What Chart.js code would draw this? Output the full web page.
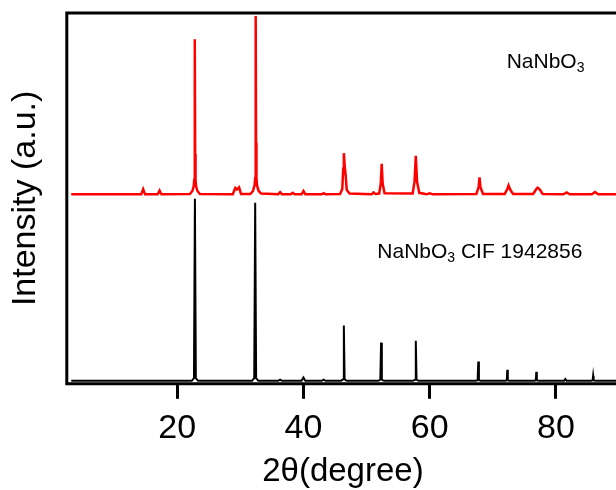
<!DOCTYPE html>
<html>
<head>
<meta charset="utf-8">
<script src="https://cdn.jsdelivr.net/npm/chart.js@4.4.1/dist/chart.umd.min.js"></script>
<style>
  html, body { margin: 0; padding: 0; background: #fff; overflow: hidden; }
  #wrap { width: 620px; height: 490px; }
</style>
</head>
<body>
<div id="wrap"><canvas id="xrd-chart" width="620" height="490"></canvas></div>
<script>
// 2theta tick labels
const xTicks = [20, 40, 60, 80];

// reference pattern (CIF 1942856), black
const cifAngle = [3.2, 22.3, 22.65, 22.8, 22.95, 23.3, 31.85, 32.2, 32.35, 32.5, 32.85,
  36.0, 36.3, 36.6, 39.7, 40.0, 40.3, 42.9, 43.2, 43.5,
  45.95, 46.28, 46.4, 46.52, 46.85, 51.85, 52.18, 52.3, 52.42, 52.75,
  57.35, 57.68, 57.8, 57.92, 58.25, 67.35, 67.6, 67.7, 67.8, 68.05,
  72.0, 72.22, 72.3, 72.38, 72.6, 76.6, 76.82, 76.9, 76.98, 77.2,
  81.3, 81.5, 81.7, 85.6, 85.82, 85.9, 85.98, 86.2, 90];
const cifIntensity = [0.8, 0.8, 1.5, 49.9, 1.5, 0.8, 0.8, 1.5, 48.8, 1.5, 0.8,
  0.8, 1.1, 0.8, 0.8, 1.7, 0.8, 0.8, 1.1, 0.8,
  0.8, 1.2, 15.7, 1.2, 0.8, 0.8, 1.1, 11.1, 1.1, 0.8,
  0.8, 1.1, 11.6, 1.1, 0.8, 0.8, 1.0, 6.0, 1.0, 0.8,
  0.8, 0.95, 3.8, 0.95, 0.8, 0.8, 0.95, 3.2, 0.95, 0.8,
  0.8, 1.3, 0.8, 0.8, 0.95, 2.2, 0.95, 0.8, 0.8];

// measured NaNbO3 pattern (offset upward), red
const sampleAngle = [3.2, 14.3, 14.6, 14.9, 16.9, 17.2, 17.5,
  22.0, 22.4, 22.6, 22.7, 22.76, 22.8, 22.84, 22.9, 23.0, 23.2, 23.6,
  28.8, 29.2, 29.45, 29.8, 30.1,
  31.6, 32.0, 32.25, 32.35, 32.41, 32.45, 32.49, 32.55, 32.65, 32.9, 33.3,
  36.0, 36.3, 36.6, 38.0, 38.3, 38.6, 39.7, 40.0, 40.3, 42.9, 43.2, 43.5,
  45.8, 46.15, 46.3, 46.4, 46.55, 46.7, 46.85, 47.3,
  50.8, 51.1, 51.4, 52.0, 52.25, 52.4, 52.55, 52.85,
  57.3, 57.6, 57.8, 58.0, 58.35, 59.5, 60.0, 60.5,
  67.4, 67.75, 67.9, 68.05, 68.45, 71.9, 72.3, 72.5, 72.75, 73.2,
  76.4, 76.85, 77.1, 77.4, 77.9, 81.2, 81.7, 82.2, 85.7, 86.2, 86.7, 90];
const sampleIntensity = [51.1, 51.1, 52.5, 51.1, 51.1, 52.1, 51.1,
  51.2, 52.0, 53.2, 55.0, 62.0, 92.9, 62.0, 55.0, 53.2, 52.0, 51.2,
  51.1, 52.8, 52.4, 53.0, 51.2,
  51.2, 52.0, 53.5, 55.5, 65.0, 99.2, 65.0, 55.5, 53.5, 52.0, 51.3,
  51.1, 51.7, 51.1, 51.1, 51.5, 51.1, 51.1, 52.0, 51.1, 51.1, 51.4, 51.1,
  51.2, 52.5, 58.0, 62.2, 58.6, 56.0, 52.3, 51.3,
  51.1, 51.6, 51.2, 51.3, 54.0, 59.3, 54.0, 51.4,
  51.3, 54.5, 61.5, 54.5, 51.5, 51.1, 51.4, 51.1,
  51.2, 53.0, 55.7, 53.0, 51.2, 51.2, 52.5, 53.5, 52.4, 51.2,
  51.2, 52.4, 52.9, 52.5, 51.2, 51.1, 51.6, 51.1, 51.1, 51.7, 51.1, 51.1];

const fontFamily = '"Liberation Sans", Arial, Helvetica, sans-serif';

function toPoints(xs, ys) {
  return xs.map((x, i) => ({ x: x, y: ys[i] }));
}

// frame (left, top, bottom) and the two curve labels
const framePlugin = {
  id: 'frame',
  afterDraw: function (chart) {
    const c = chart.ctx;
    const a = chart.chartArea;
    const xs = chart.scales.x;
    const ys = chart.scales.y;
    c.save();
    c.strokeStyle = '#000';
    c.lineWidth = 3;
    c.beginPath();
    c.moveTo(a.right + 2, a.top);
    c.lineTo(a.left, a.top);
    c.lineTo(a.left, a.bottom);
    c.lineTo(a.right + 2, a.bottom);
    c.stroke();

    function label(text, x, y) {
      c.fillStyle = '#000';
      c.textBaseline = 'alphabetic';
      c.textAlign = 'left';
      c.font = '21px ' + fontFamily;
      c.fillText(text[0], x, y);
      let w = c.measureText(text[0]).width;
      c.font = '14px ' + fontFamily;
      c.fillText('3', x + w, y + 4);
      w += c.measureText('3').width;
      if (text[1]) {
        c.font = '21px ' + fontFamily;
        c.fillText(text[1], x + w, y);
      }
    }
    label(['NaNbO'], xs.getPixelForValue(72.2), ys.getPixelForValue(85.3));
    label(['NaNbO', ' CIF 1942856'], xs.getPixelForValue(51.7), ys.getPixelForValue(33.9));
    c.restore();
  }
};

const ctx = document.getElementById('xrd-chart');
new Chart(ctx, {
  type: 'line',
  data: {
    datasets: [{
      label: 'NaNbO3',
      data: toPoints(sampleAngle, sampleIntensity),
      borderColor: '#ff0000',
      borderWidth: 2.5,
      pointRadius: 0,
      tension: 0,
      fill: false,
    }, {
      label: 'NaNbO3 CIF 1942856',
      data: toPoints(cifAngle, cifIntensity),
      borderColor: '#000000',
      borderWidth: 2,
      pointRadius: 0,
      tension: 0,
      fill: false,
    }]
  },
  options: {
    responsive: false,
    animation: false,
    layout: { padding: { top: 13, right: 1, left: 0, bottom: 0 } },
    scales: {
      x: {
        type: 'linear',
        min: 2.5,
        max: 90,
        afterBuildTicks: function (axis) {
          axis.ticks = xTicks.map(v => ({ value: v }));
        },
        grid: {
          display: true,
          drawOnChartArea: false,
          drawTicks: true,
          tickLength: 15,
          tickWidth: 3,
          tickColor: '#000',
        },
        border: { display: false },
        ticks: {
          color: '#000',
          padding: 9.5,
          maxRotation: 0,
          font: { family: fontFamily, size: 34 },
        },
        title: {
          display: true,
          text: '2θ(degree)',
          color: '#000',
          padding: { top: 0, bottom: 5 },
          font: { family: fontFamily, size: 33, lineHeight: 0.8 },
        }
      },
      y: {
        min: 0,
        max: 100,
        grid: { display: false, drawTicks: false },
        border: { display: false },
        ticks: { display: false },
        title: {
          display: true,
          text: 'Intensity (a.u.)',
          color: '#000',
          padding: { top: 5, bottom: 21 },
          font: { family: fontFamily, size: 34 },
        }
      }
    },
    plugins: {
      legend: { display: false },
      tooltip: { enabled: false }
    }
  },
  plugins: [framePlugin]
});
</script>
</body>
</html>
